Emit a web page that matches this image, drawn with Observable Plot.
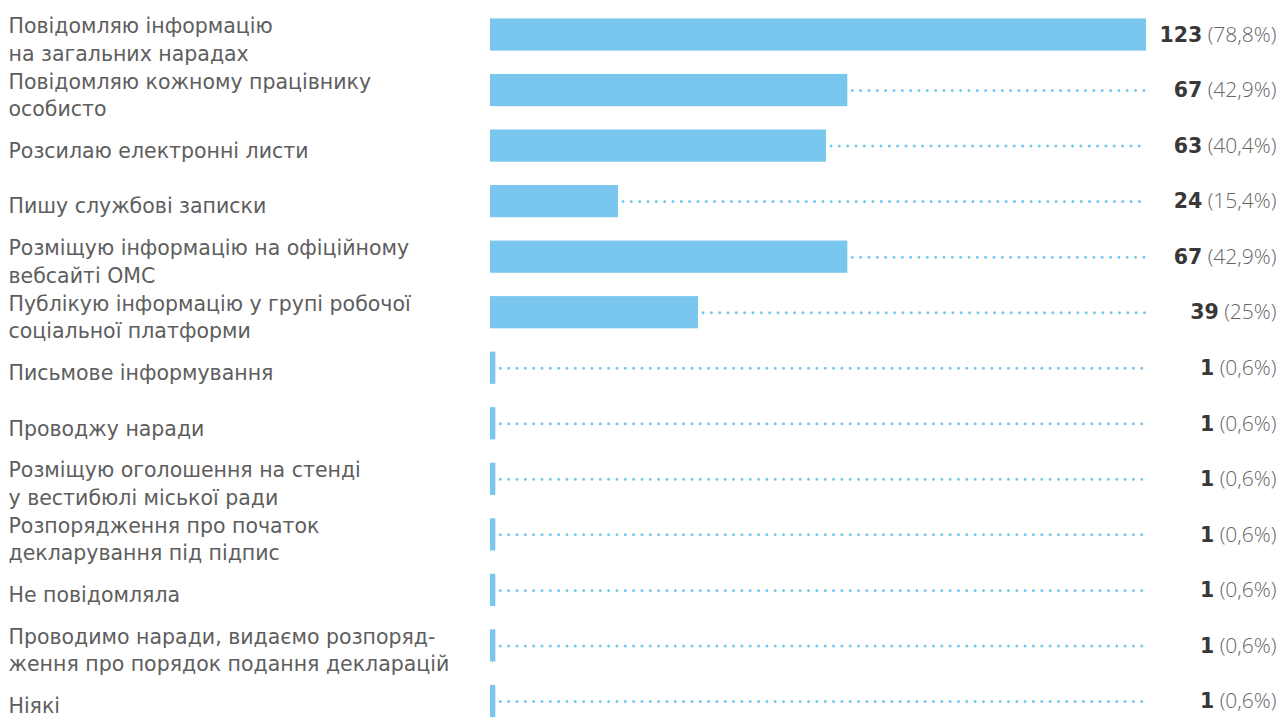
<!DOCTYPE html>
<html>
<head>
<meta charset="utf-8">
<script src="https://cdn.jsdelivr.net/npm/d3@7"></script>
<script src="https://cdn.jsdelivr.net/npm/@observablehq/plot@0.6"></script>
<style>
  html, body { margin: 0; padding: 0; background: #fff; }
  #chart { width: 1288px; height: 720px; overflow: hidden; }
  .vals .num { font-family: "DejaVu Sans", sans-serif; font-weight: bold; fill: #383838; font-size: 20.5px; }
  .vals .pct { font-family: "Open Sans", sans-serif; font-weight: 300; fill: #666; font-size: 21px; }
</style>
</head>
<body>
<div id="chart"></div>
<script>
const categories = [
  "Повідомляю інформацію\nна загальних нарадах",
  "Повідомляю кожному працівнику\nособисто",
  "Розсилаю електронні листи",
  "Пишу службові записки",
  "Розміщую інформацію на офіційному\nвебсайті ОМС",
  "Публікую інформацію у групі робочої\nсоціальної платформи",
  "Письмове інформування",
  "Проводжу наради",
  "Розміщую оголошення на стенді\nу вестибюлі міської ради",
  "Розпорядження про початок\nдекларування під підпис",
  "Не повідомляла",
  "Проводимо наради, видаємо розпоряд-\nження про порядок подання декларацій",
  "Ніякі"
];
const counts = [123, 67, 63, 24, 67, 39, 1, 1, 1, 1, 1, 1, 1];
const percents = ["78,8%", "42,9%", "40,4%", "15,4%", "42,9%", "25%", "0,6%", "0,6%", "0,6%", "0,6%", "0,6%", "0,6%", "0,6%"];
const maxCount = 123;

const data = categories.map((c, i) => ({label: c, value: counts[i], pct: percents[i]}));

const W = 1288, H = 720;
const step = 55.54;
const plot = Plot.plot({
  width: W,
  height: H,
  marginLeft: 490,
  marginRight: 142,
  marginTop: 0,
  marginBottom: 0,
  style: {fontFamily: "'DejaVu Sans', sans-serif", background: "#fff", overflow: "visible"},
  x: {domain: [0, maxCount], axis: null},
  y: {domain: categories, axis: null, round: false,
      range: [34.5 - step / 2, 34.5 - step / 2 + step * categories.length],
      paddingInner: 0.42, paddingOuter: 0.21},
  marks: [
    Plot.ruleY(data.filter(d => d.value < maxCount), {
      y: "label", x1: "value", x2: () => maxCount,
      stroke: "#79c7ee", strokeWidth: 3, strokeLinecap: "round",
      strokeDasharray: "0 8.33", strokeDashoffset: -5
    }),
    Plot.barX(data, {y: "label", x: "value", fill: "#79c7ee"}),
    Plot.text(data, {
      y: "label", text: "label", frameAnchor: "left", dx: -482, dy: 3,
      textAnchor: "start", lineAnchor: "middle", lineHeight: 1.34,
      fontSize: 20.5, fill: "#5e5e5e"
    }),
    Plot.text(data, {
      y: "label", text: d => String(d.value) + "|" + "(" + d.pct + ")",
      frameAnchor: "right", dx: 130, textAnchor: "end",
      lineAnchor: "middle", fontSize: 21, className: "vals"
    })
  ]
});

// split the value labels into a bold count and a light percentage
d3.select(plot).selectAll("g.vals text").each(function() {
  const t = this.textContent.split("|");
  const el = d3.select(this);
  el.text(null);
  el.append("tspan").attr("class", "num").text(t[0]);
  el.append("tspan").attr("class", "pct").text(" " + t[1]);
});

document.getElementById("chart").appendChild(plot);
</script>
</body>
</html>
